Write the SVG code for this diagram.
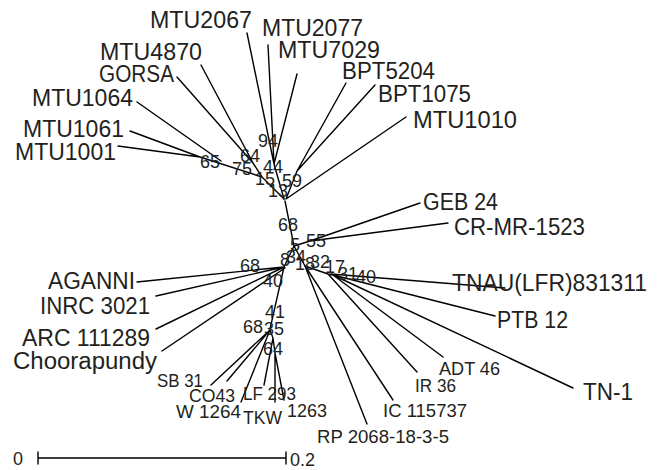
<svg xmlns="http://www.w3.org/2000/svg" width="659" height="470" viewBox="0 0 659 470">
<style>
text{font-family:"Liberation Sans",Arial,sans-serif;fill:#231f20}
.lg{font-size:23px}
.sm{font-size:18px}
.bs{font-size:18px}
.edge{stroke:#000;stroke-width:1.4;fill:none;stroke-linecap:round}
</style>
<rect width="659" height="470" fill="#fff"/>
<g id="connectors">
<path class="edge" d="M247,33L274,164M268,45L274,164M297,74L274,164M274,164L284,199"/>
<path class="edge" d="M201,65L253,163M177,77L253,163M253,163L262,177M130,131L200,157M118,146L200,157M200,157L262,177M137,102L221,161M262,177L284,199"/>
<path class="edge" d="M346,83L297,171M375,85L297,171M297,171L286,199M406,117L286,199"/>
<path class="edge" d="M285,201L294,246M294,246L310,241M310,241L420,203M310,241L448,223M294,246L284,267M294,246L305,266"/>
<path class="edge" d="M137,282L284,267M156,296L284,267M156,329L284,267M162,351L285,268M284,267L270,329M211,385L270,330M227,381L270,330M241,402L270,330M270,330L273,338M264,385L273,338M273,338L275,353M275,353L275,402M275,353L284,400"/>
<path class="edge" d="M367,424L305,266M393,400L305,266M305,266L328,274M417,372L328,274M328,274L333,275M443,357L333,275M495,316L333,275M573,388L333,275M331,274L505,288"/>
</g>
<g id="support-values" class="bs">
<text x="258" y="147">94</text>
<text x="240" y="162">64</text>
<text x="200" y="168">65</text>
<text x="232" y="175">75</text>
<text x="263" y="173">44</text>
<text x="255" y="185">15</text>
<text x="282" y="187">59</text>
<text x="268" y="197">13</text>
<text x="278" y="231">68</text>
<text x="290" y="251">5</text>
<text x="306" y="247">55</text>
<text x="286" y="263">34</text>
<text x="280" y="266">8</text>
<text x="240" y="272">68</text>
<text x="263" y="287">40</text>
<text x="295" y="270">18</text>
<text x="310" y="268">32</text>
<text x="325" y="273">17</text>
<text x="338" y="280">31</text>
<text x="356" y="283">40</text>
<text x="265" y="318">41</text>
<text x="243" y="333">68</text>
<text x="264" y="335">35</text>
<text x="263" y="355">64</text>
</g>
<g id="node-MTU2067"><text class="lg" x="150" y="28" textLength="102" lengthAdjust="spacingAndGlyphs">MTU2067</text></g>
<g id="node-MTU2077"><text class="lg" x="262" y="36" textLength="101" lengthAdjust="spacingAndGlyphs">MTU2077</text></g>
<g id="node-MTU7029"><text class="lg" x="278" y="58" textLength="102" lengthAdjust="spacingAndGlyphs">MTU7029</text></g>
<g id="node-BPT5204"><text class="lg" x="342" y="79" textLength="93" lengthAdjust="spacingAndGlyphs">BPT5204</text></g>
<g id="node-BPT1075"><text class="lg" x="378" y="102" textLength="93" lengthAdjust="spacingAndGlyphs">BPT1075</text></g>
<g id="node-MTU1010"><text class="lg" x="413" y="128" textLength="104" lengthAdjust="spacingAndGlyphs">MTU1010</text></g>
<g id="node-MTU4870"><text class="lg" x="100" y="60" textLength="102" lengthAdjust="spacingAndGlyphs">MTU4870</text></g>
<g id="node-GORSA"><text class="lg" x="99" y="82" textLength="75" lengthAdjust="spacingAndGlyphs">GORSA</text></g>
<g id="node-MTU1064"><text class="lg" x="32" y="106" textLength="101" lengthAdjust="spacingAndGlyphs">MTU1064</text></g>
<g id="node-MTU1061"><text class="lg" x="23" y="137" textLength="101" lengthAdjust="spacingAndGlyphs">MTU1061</text></g>
<g id="node-MTU1001"><text class="lg" x="15" y="160" textLength="101" lengthAdjust="spacingAndGlyphs">MTU1001</text></g>
<g id="node-GEB24"><text class="lg" x="423" y="210" textLength="75" lengthAdjust="spacingAndGlyphs">GEB 24</text></g>
<g id="node-CRMR1523"><text class="lg" x="454" y="235" textLength="131" lengthAdjust="spacingAndGlyphs">CR-MR-1523</text></g>
<g id="node-TNAU"><text class="lg" x="452" y="291" textLength="195" lengthAdjust="spacingAndGlyphs">TNAU(LFR)831311</text></g>
<g id="node-PTB12"><text class="lg" x="497" y="328" textLength="71" lengthAdjust="spacingAndGlyphs">PTB 12</text></g>
<g id="node-TN1"><text class="lg" x="583" y="400" textLength="50" lengthAdjust="spacingAndGlyphs">TN-1</text></g>
<g id="node-AGANNI"><text class="lg" x="48" y="289" textLength="87" lengthAdjust="spacingAndGlyphs">AGANNI</text></g>
<g id="node-INRC3021"><text class="lg" x="40" y="314" textLength="110" lengthAdjust="spacingAndGlyphs">INRC 3021</text></g>
<g id="node-ARC111289"><text class="lg" x="22" y="346" textLength="128" lengthAdjust="spacingAndGlyphs">ARC 111289</text></g>
<g id="node-Choorapundy"><text class="lg" x="13" y="369" textLength="144" lengthAdjust="spacingAndGlyphs">Choorapundy</text></g>
<g id="node-SB31"><text class="sm" x="157" y="387" textLength="46" lengthAdjust="spacingAndGlyphs">SB 31</text></g>
<g id="node-CO43"><text class="sm" x="189" y="402" textLength="46" lengthAdjust="spacingAndGlyphs">CO43</text></g>
<g id="node-LF293"><text class="sm" x="243" y="400" textLength="53" lengthAdjust="spacingAndGlyphs">LF 293</text></g>
<g id="node-W1264"><text class="sm" x="176" y="418" textLength="65" lengthAdjust="spacingAndGlyphs">W 1264</text></g>
<g id="node-TKW"><text class="sm" x="243" y="424" textLength="39" lengthAdjust="spacingAndGlyphs">TKW</text></g>
<g id="node-1263"><text class="sm" x="287" y="417" textLength="40" lengthAdjust="spacingAndGlyphs">1263</text></g>
<g id="node-RP2068"><text class="sm" x="317" y="443" textLength="132" lengthAdjust="spacingAndGlyphs">RP 2068-18-3-5</text></g>
<g id="node-IC115737"><text class="sm" x="383" y="417" textLength="84" lengthAdjust="spacingAndGlyphs">IC 115737</text></g>
<g id="node-IR36"><text class="sm" x="415" y="392" textLength="41" lengthAdjust="spacingAndGlyphs">IR 36</text></g>
<g id="node-ADT46"><text class="sm" x="439" y="375" textLength="61" lengthAdjust="spacingAndGlyphs">ADT 46</text></g>
<g id="scale-bar">
<path class="edge" d="M38,458L286,458M38,452L38,464M286,452L286,464"/>
<text class="sm" x="13" y="465">0</text>
<text class="sm" x="290" y="466">0.2</text>
</g>
</svg>
